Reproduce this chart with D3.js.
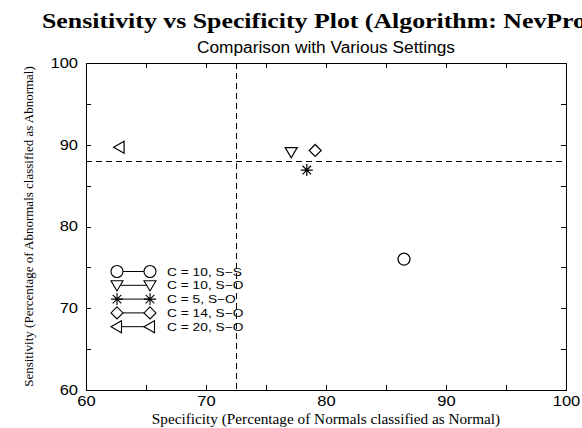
<!DOCTYPE html>
<html>
<head>
<meta charset="utf-8">
<script src="https://cdn.jsdelivr.net/npm/d3@7"></script>
<style>
  body { margin: 0; background: #fff; }
  svg { display: block; }
</style>
</head>
<body>
<div id="viz"></div>
<script>
// data
var seriesLabels = ["C = 10, S\u2212S", "C = 10, S\u2212O", "C = 5, S\u2212O", "C = 14, S\u2212O", "C = 20, S\u2212O"];
var seriesShapes = ["circle", "triangleDown", "star", "diamond", "triangleLeft"];
var specificity = [86.5, 77.1, 78.4, 79.1, 62.8];
var sensitivity = [76.0, 89.1, 86.9, 89.3, 89.7];
var specThreshold = 72.5;
var sensThreshold = 88;
var tickValues = [60, 65, 70, 75, 80, 85, 90, 95, 100];

var W = 582, H = 428;
var plotL = 86, plotR = 566, plotT = 63, plotB = 390;

var svg = d3.select("#viz").append("svg")
    .attr("width", W)
    .attr("height", H);

var x = d3.scaleLinear().domain([60, 100]).range([plotL, plotR]);
var y = d3.scaleLinear().domain([60, 100]).range([plotB, plotT]);

var fmt = function(d) { return d % 10 === 0 ? d : ""; };
var sans = "'Liberation Sans', Arial, sans-serif";
var serif = "'Liberation Serif', 'Times New Roman', serif";

// the original fonts are a bit wider than ours, stretch them
function stretch(sel, k) {
    sel.each(function() {
        var w = this.getComputedTextLength();
        if (w > 0) d3.select(this).attr("textLength", w * k).attr("lengthAdjust", "spacingAndGlyphs");
    });
}

// title + subtitle
svg.append("text")
    .attr("x", 42).attr("y", 28)
    .attr("font-family", serif)
    .attr("font-weight", "bold")
    .attr("font-size", "21px")
    .text("Sensitivity vs Specificity Plot (Algorithm: NevProbe)")
    .call(stretch, 1.23);

svg.append("text")
    .attr("x", (plotL + plotR) / 2).attr("y", 53)
    .attr("text-anchor", "middle")
    .attr("font-family", sans)
    .attr("font-size", "16px")
    .text("Comparison with Various Settings")
    .call(stretch, 1.08);

// axes, ticks pointing inward
function styleAxis(g) {
    g.select(".domain").attr("stroke", "#000").attr("shape-rendering", "crispEdges");
    g.selectAll(".tick line").attr("stroke", "#000").attr("shape-rendering", "crispEdges");
    g.selectAll("text")
        .attr("font-family", sans)
        .attr("font-size", "14px")
        .attr("fill", "#000")
        .call(stretch, 1.18);
}

svg.append("g")
    .attr("transform", "translate(0," + plotB + ")")
    .call(d3.axisBottom(x).tickValues(tickValues).tickFormat(fmt).tickSize(-5).tickSizeOuter(0).tickPadding(6))
    .call(styleAxis);

svg.append("g")
    .attr("transform", "translate(" + plotL + ",0)")
    .call(d3.axisLeft(y).tickValues(tickValues).tickFormat(fmt).tickSize(-5).tickSizeOuter(0).tickPadding(8))
    .call(styleAxis);

svg.append("g")
    .attr("transform", "translate(0," + plotT + ")")
    .call(d3.axisTop(x).tickValues(tickValues).tickFormat("").tickSize(-5).tickSizeOuter(0))
    .call(styleAxis);

svg.append("g")
    .attr("transform", "translate(" + plotR + ",0)")
    .call(d3.axisRight(y).tickValues(tickValues).tickFormat("").tickSize(-5).tickSizeOuter(0))
    .call(styleAxis);

// axis titles
svg.append("text")
    .attr("x", (plotL + plotR) / 2).attr("y", 424)
    .attr("text-anchor", "middle")
    .attr("font-family", serif)
    .attr("font-size", "14px")
    .text("Specificity (Percentage of Normals classified as Normal)")
    .call(stretch, 1.09);

svg.append("text")
    .attr("transform", "translate(33," + (plotT + plotB) / 2 + ") rotate(-90)")
    .attr("text-anchor", "middle")
    .attr("font-family", serif)
    .attr("font-size", "13px")
    .text("Sensitivity (Percentage of Abnormals classified as Abnormal)");

// threshold lines
svg.append("line")
    .attr("x1", x(specThreshold) + 0.5).attr("x2", x(specThreshold) + 0.5)
    .attr("y1", y(100)).attr("y2", y(60))
    .attr("stroke", "#000").attr("stroke-dasharray", "6,4")
    .attr("shape-rendering", "crispEdges");

svg.append("line")
    .attr("x1", x(60)).attr("x2", x(100))
    .attr("y1", y(sensThreshold) + 0.5).attr("y2", y(sensThreshold) + 0.5)
    .attr("stroke", "#000").attr("stroke-dasharray", "6,4")
    .attr("shape-rendering", "crispEdges");

// marker shapes (path around 0,0)
function markerPath(shape) {
    var r = 6;
    if (shape === "circle") {
        var p = d3.path(); p.arc(0, 0, r, 0, 2 * Math.PI); p.closePath(); return p.toString();
    }
    if (shape === "triangleDown") return "M" + (-r) + "," + (-r * 0.75) + "L" + r + "," + (-r * 0.75) + "L0," + (r * 0.95) + "Z";
    if (shape === "triangleLeft") return "M" + (-r) + ",0L" + (r * 0.75) + "," + (-r) + "L" + (r * 0.75) + "," + r + "Z";
    if (shape === "diamond") return "M0," + (-r) + "L" + r + ",0L0," + r + "L" + (-r) + ",0Z";
    if (shape === "star") {
        var s = r, d = s * 0.72;
        return "M" + (-s) + ",0L" + s + ",0M0," + (-s) + "L0," + s +
            "M" + (-d) + "," + (-d) + "L" + d + "," + d + "M" + (-d) + "," + d + "L" + d + "," + (-d);
    }
}

var points = svg.selectAll(".pt")
    .data(seriesLabels.map(function(l, i) {
        return { label: l, shape: seriesShapes[i], sx: specificity[i], sy: sensitivity[i] };
    }))
    .enter()
    .append("path")
    .attr("class", "pt")
    .attr("transform", function(d) { return "translate(" + x(d.sx) + "," + y(d.sy) + ")"; })
    .attr("d", function(d) { return markerPath(d.shape); })
    .attr("fill", "none")
    .attr("stroke", "#000")
    .attr("stroke-width", 1.2);

// legend
var legX0 = 117, legX1 = 150, legText = 167, legY0 = 271.5, legDy = 13.8;

var leg = svg.selectAll(".leg")
    .data(seriesLabels)
    .enter()
    .append("g")
    .attr("class", "leg")
    .attr("transform", function(d, i) { return "translate(0," + (legY0 + i * legDy) + ")"; });

leg.append("line")
    .attr("x1", legX0).attr("x2", legX1)
    .attr("stroke", "#000");

leg.each(function(d, i) {
    var g = d3.select(this);
    [legX0, legX1].forEach(function(mx) {
        g.append("path")
            .attr("transform", "translate(" + mx + ",0)")
            .attr("d", markerPath(seriesShapes[i]))
            .attr("fill", "#fff")
            .attr("stroke", "#000")
            .attr("stroke-width", 1.1);
    });
});

leg.append("text")
    .attr("x", legText).attr("y", 4)
    .attr("font-family", sans)
    .attr("font-size", "11px")
    .text(function(d) { return d; })
    .call(stretch, 1.25);
</script>
</body>
</html>
